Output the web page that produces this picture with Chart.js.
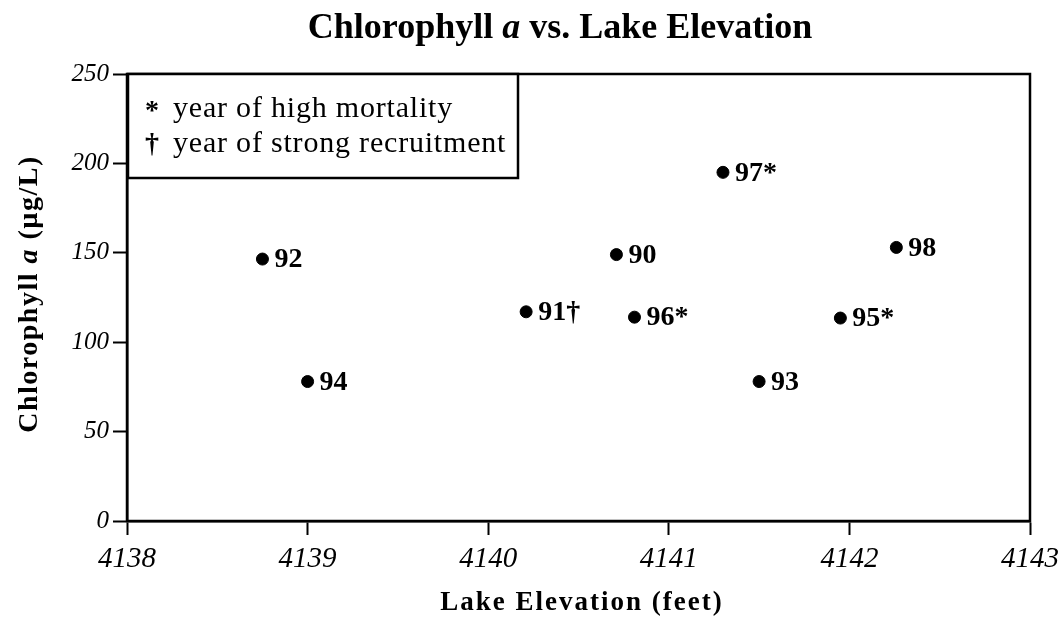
<!DOCTYPE html>
<html>
<head>
<meta charset="utf-8">
<script src="https://cdn.jsdelivr.net/npm/chart.js@4/dist/chart.umd.min.js"></script>
<style>
    html, body { margin: 0; padding: 0; background: #fff; }
    #wrap { width: 1063px; height: 617px; }
</style>
</head>
<body>
<div id="wrap"><canvas id="lakeChart"></canvas></div>
<script>
// data
const years = ['90', '91', '92', '93', '94', '95', '96', '97', '98'];
const marks = ['', '†', '', '', '', '*', '*', '*', ''];
const elevation = [4140.71, 4140.21, 4138.75, 4141.50, 4139.00, 4141.95, 4140.81, 4141.30, 4142.26];
const chlorophyll = [149, 117, 146.5, 78, 78, 113.5, 114, 195, 153];
const xTicks = [4138, 4139, 4140, 4141, 4142, 4143];
const yTicks = [0, 50, 100, 150, 200, 250];
const legendLines = [['*', 'year of high mortality'], ['†', 'year of strong recruitment']];

const SERIF = '"Liberation Serif", "DejaVu Serif", serif';

// draw text made of parts with different fonts, centred on x
function drawRich(ctx, parts, x, y) {
    let total = 0;
    parts.forEach(p => { ctx.font = p.font; total += ctx.measureText(p.text).width; });
    let cx = x - total / 2;
    ctx.textAlign = 'left';
    parts.forEach(p => {
        ctx.font = p.font;
        ctx.fillText(p.text, cx, y);
        cx += ctx.measureText(p.text).width;
    });
}

const annotate = {
    id: 'annotate',
    afterDatasetsDraw(chart) {
        const ctx = chart.ctx;
        const xs = chart.scales.x, ys = chart.scales.y;
        ctx.save();
        ctx.fillStyle = '#000';
        ctx.textBaseline = 'middle';
        ctx.textAlign = 'left';
        ctx.font = 'bold 28px ' + SERIF;
        years.forEach((yr, i) => {
            const px = xs.getPixelForValue(elevation[i]);
            const py = ys.getPixelForValue(chlorophyll[i]);
            ctx.fillText(yr + marks[i], px + 12, py + 1);
        });
        ctx.restore();
    },
    afterDraw(chart) {
        const ctx = chart.ctx;
        const a = chart.chartArea;
        ctx.save();
        ctx.strokeStyle = '#000';
        ctx.fillStyle = '#000';

        // plot frame
        ctx.lineWidth = 2.5;
        ctx.strokeRect(a.left, a.top, a.right - a.left, a.bottom - a.top);

        // key box
        const bx = a.left + 1, by = a.top, bw = 390, bh = 104;
        ctx.fillStyle = '#fff';
        ctx.fillRect(bx, by, bw, bh);
        ctx.strokeRect(bx, by, bw, bh);
        ctx.fillStyle = '#000';
        ctx.textBaseline = 'alphabetic';
        ctx.textAlign = 'left';
        legendLines.forEach((ln, i) => {
            const ly = by + 43 + i * 35;
            ctx.letterSpacing = '0px';
            ctx.font = 'bold 28px ' + SERIF;
            ctx.fillText(ln[0], bx + 17, ly + (i === 0 ? 2 : 0));
            ctx.letterSpacing = '0.8px';
            ctx.font = '30px ' + SERIF;
            ctx.fillText(ln[1], bx + 45, ly);
        });

        // title
        ctx.letterSpacing = '0px';
        drawRich(ctx, [
            { text: 'Chlorophyll ', font: 'bold 36px ' + SERIF },
            { text: 'a', font: 'italic bold 36px ' + SERIF },
            { text: ' vs. Lake Elevation', font: 'bold 36px ' + SERIF }
        ], 560, 38);

        // x axis title
        ctx.letterSpacing = '2px';
        drawRich(ctx, [
            { text: 'Lake Elevation (feet)', font: 'bold 27px ' + SERIF }
        ], 582, 610);

        // y axis title
        ctx.letterSpacing = '1.5px';
        ctx.translate(37, 294);
        ctx.rotate(-Math.PI / 2);
        drawRich(ctx, [
            { text: 'Chlorophyll ', font: 'bold 28px ' + SERIF },
            { text: 'a', font: 'italic bold 28px ' + SERIF },
            { text: ' (µg/L)', font: 'bold 28px ' + SERIF }
        ], 0, 0);
        ctx.restore();
    }
};

new Chart(document.getElementById('lakeChart').getContext('2d'), {
    type: 'scatter',
    data: {
        datasets: [{
            label: 'Chlorophyll a',
            data: elevation.map((e, i) => ({ x: e, y: chlorophyll[i] })),
            backgroundColor: '#000',
            borderColor: '#000',
            pointRadius: 6,
            pointHoverRadius: 6
        }]
    },
    options: {
        responsive: true,
        maintainAspectRatio: false,
        animation: false,
        layout: { padding: { top: 74, right: 33, left: 0, bottom: 0 } },
        plugins: {
            legend: { display: false },
            tooltip: { enabled: false }
        },
        scales: {
            x: {
                type: 'linear',
                min: xTicks[0],
                max: xTicks[xTicks.length - 1],
                afterFit: s => { s.height = 96; s.paddingRight = 0; s.paddingLeft = 0; },
                afterBuildTicks: s => { s.ticks = xTicks.map(v => ({ value: v })); },
                grid: { drawOnChartArea: false, tickLength: 14, tickColor: '#000', tickWidth: 2 },
                border: { color: '#000', width: 2.5 },
                ticks: {
                    color: '#000',
                    padding: 7,
                    font: { family: SERIF, size: 29, style: 'italic' },
                    callback: v => String(v)
                }
            },
            y: {
                min: yTicks[0],
                max: yTicks[yTicks.length - 1],
                afterFit: s => { s.width = 127; },
                afterBuildTicks: s => { s.ticks = yTicks.map(v => ({ value: v })); },
                grid: { drawOnChartArea: false, tickLength: 14, tickColor: '#000', tickWidth: 2 },
                border: { color: '#000', width: 2.5 },
                ticks: {
                    color: '#000',
                    padding: 4,
                    font: { family: SERIF, size: 25, style: 'italic' }
                }
            }
        }
    },
    plugins: [annotate]
});
</script>
</body>
</html>
